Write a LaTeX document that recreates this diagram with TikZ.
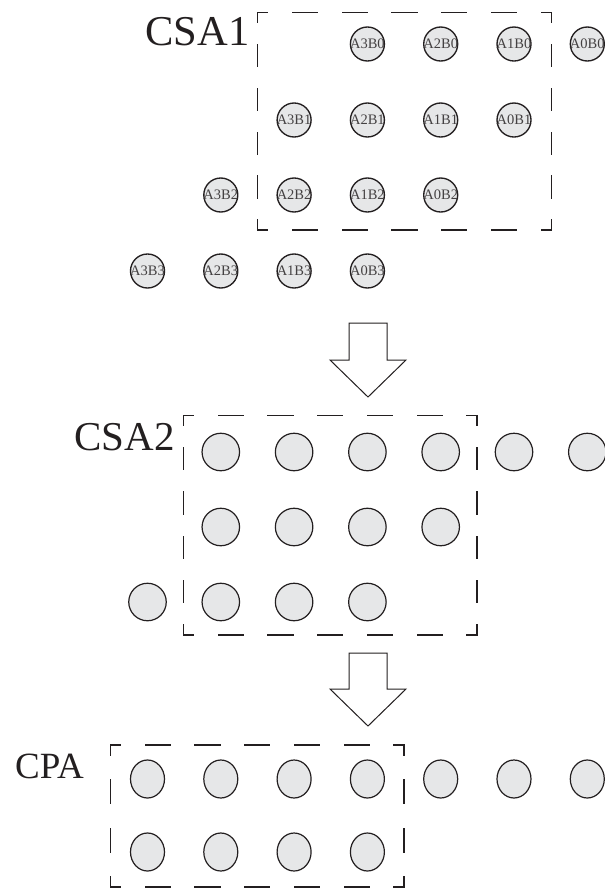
\documentclass[tikz,border=0pt]{standalone}
\usepackage{fontspec}
\setmainfont{Liberation Serif}
\usetikzlibrary{shapes.geometric}
\definecolor{dotfill}{HTML}{E6E7E8}
\definecolor{ink}{HTML}{231F20}
\tikzset{
  dot/.style={circle, draw=ink, fill=dotfill, line width=1.2pt, inner sep=0pt},
  sdot/.style={dot, line width=1.35pt, minimum size=34pt, text=ink!85, font=\fontsize{14.5}{14.5}\selectfont},
  mdot/.style={dot, minimum size=37.5pt},
  edot/.style={ellipse, draw=ink, fill=dotfill, line width=1.2pt, inner sep=0pt, minimum width=34pt, minimum height=38pt},
  boxline/.style={draw=ink, line width=1.3pt, line cap=rect},
  blockarrow/.style={draw=ink, fill=white, line width=1pt, line join=miter},
  title/.style={anchor=base east, inner sep=0pt, text=ink},
}
\newcommand\dashrect[4]{%
  \pgfmathsetmacro\Lh{#3-#1}\pgfmathsetmacro\Lv{#4-#2}%
  \pgfmathsetmacro\mh{round((\Lh-44)/48)}\pgfmathsetmacro\dh{(\Lh-20)/(2*\mh+1)}%
  \pgfmathsetmacro\mv{round((\Lv-44)/48)}\pgfmathsetmacro\dv{(\Lv-20)/(2*\mv+1)}%
  \pgfmathsetmacro\ph{\dh-10}\pgfmathsetmacro\pv{\dv-10}%
  \draw[boxline, dash pattern=on \dh pt off \dh pt, dash phase=\ph pt] (#1,#2) -- (#3,#2);
  \draw[boxline, dash pattern=on \dh pt off \dh pt, dash phase=\ph pt] (#1,#4) -- (#3,#4);
  \draw[boxline, dash pattern=on \dv pt off \dv pt, dash phase=\pv pt] (#1,#2) -- (#1,#4);
  \draw[boxline, dash pattern=on \dv pt off \dv pt, dash phase=\pv pt] (#3,#2) -- (#3,#4);
}
\begin{document}
\begin{tikzpicture}[x=1pt, y=-1pt]
\useasboundingbox (0,0) rectangle (605,895);

% ---------- CSA1 ----------
\dashrect{257.5}{12.5}{551.5}{230}
\node[title, font=\fontsize{42.5}{42.5}\selectfont] (csa1) at (249.5,45) {CSA1};

\node[sdot] (A3B0) at (367.4,44) {\makebox[0pt]{A3B0}};
\node[sdot] (A2B0) at (440.7,44) {\makebox[0pt]{A2B0}};
\node[sdot] (A1B0) at (514.0,44) {\makebox[0pt]{A1B0}};
\node[sdot] (A0B0) at (587.3,44) {\makebox[0pt]{A0B0}};

\node[sdot] (A3B1) at (294.1,120) {\makebox[0pt]{A3B1}};
\node[sdot] (A2B1) at (367.4,120) {\makebox[0pt]{A2B1}};
\node[sdot] (A1B1) at (440.7,120) {\makebox[0pt]{A1B1}};
\node[sdot] (A0B1) at (514.0,120) {\makebox[0pt]{A0B1}};

\node[sdot] (A3B2) at (220.8,195) {\makebox[0pt]{A3B2}};
\node[sdot] (A2B2) at (294.1,195) {\makebox[0pt]{A2B2}};
\node[sdot] (A1B2) at (367.4,195) {\makebox[0pt]{A1B2}};
\node[sdot] (A0B2) at (440.7,195) {\makebox[0pt]{A0B2}};

\node[sdot] (A3B3) at (147.5,271) {\makebox[0pt]{A3B3}};
\node[sdot] (A2B3) at (220.8,271) {\makebox[0pt]{A2B3}};
\node[sdot] (A1B3) at (294.1,271) {\makebox[0pt]{A1B3}};
\node[sdot] (A0B3) at (367.4,271) {\makebox[0pt]{A0B3}};

% ---------- arrow 1 ----------
\draw[blockarrow] (349,323) -- (387,323) -- (387,360) -- (406,360) -- (368,397) -- (330,360) -- (349,360) -- cycle;

% ---------- CSA2 ----------
\dashrect{183.5}{415.5}{477}{635}
\node[title, font=\fontsize{41}{41}\selectfont] (csa2) at (175,450) {CSA2};

\foreach \c in {1,...,6} \node[mdot] (p\c) at ({147.5+73.3*\c},452) {};
\foreach \c in {1,...,4} \node[mdot] (q\c) at ({147.5+73.3*\c},527) {};
\foreach \c in {0,...,3} \node[mdot] (r\c) at ({147.5+73.3*\c},602) {};

% ---------- arrow 2 ----------
\draw[blockarrow] (349,653) -- (387,653) -- (387,689) -- (406,689) -- (368,726) -- (330,689) -- (349,689) -- cycle;

% ---------- CPA ----------
\dashrect{110.5}{745}{404}{887}
\node[title, font=\fontsize{37}{37}\selectfont] (cpa) at (84,778) {CPA};

\foreach \c in {0,...,6} \node[edot] (u\c) at ({147.5+73.3*\c},779) {};
\foreach \c in {0,...,3} \node[edot] (v\c) at ({147.5+73.3*\c},852) {};
\end{tikzpicture}
\end{document}
